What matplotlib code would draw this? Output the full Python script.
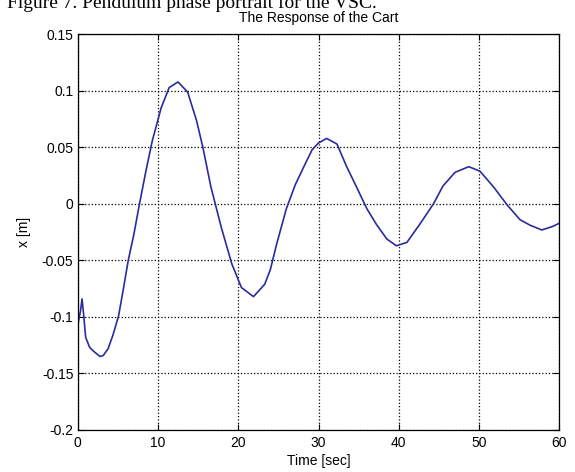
import matplotlib
matplotlib.use("Agg")
import matplotlib.pyplot as plt

# values
time_s = [0.0, 0.05, 0.35, 0.55, 0.75, 1.0, 1.5, 2.1, 2.8, 3.2, 3.8, 4.4, 5.1,
          5.7, 6.3, 7.0, 7.7, 8.5, 9.3, 10.4, 11.4, 12.5, 13.7, 14.8, 15.6, 16.6,
          17.9, 19.2, 20.4, 21.9, 23.3, 24.0, 24.8, 26.0, 27.1, 28.1, 29.2, 30.0,
          31.0, 32.3, 33.5, 34.8, 36.0, 37.2, 38.5, 39.7, 41.0, 42.6, 44.3, 45.5,
          47.0, 48.7, 50.1, 51.8, 53.5, 55.1, 56.4, 57.8, 59.1, 60.0]
cart_x = [-0.047, -0.106, -0.095, -0.084, -0.098, -0.118, -0.127, -0.131, -0.135,
          -0.134, -0.128, -0.116, -0.099, -0.075, -0.050, -0.027, 0.000, 0.029,
          0.056, 0.085, 0.103, 0.108, 0.099, 0.074, 0.050, 0.015, -0.021, -0.053,
          -0.074, -0.082, -0.071, -0.058, -0.035, -0.004, 0.017, 0.032, 0.048,
          0.054, 0.058, 0.053, 0.033, 0.014, -0.004, -0.018, -0.031, -0.037,
          -0.034, -0.018, 0.000, 0.016, 0.028, 0.033, 0.029, 0.015, -0.001,
          -0.014, -0.019, -0.023, -0.020, -0.017]

x_ticks = [0, 10, 20, 30, 40, 50, 60]
y_ticks = [-0.2, -0.15, -0.1, -0.05, 0, 0.05, 0.1, 0.15]
y_labels = ["-0.2", "-0.15", "-0.1", "-0.05", "0", "0.05", "0.1", "0.15"]

plt.rcParams["font.family"] = ["Liberation Sans", "DejaVu Sans"]

fig = plt.figure(figsize=(5.75, 4.72), dpi=100)
ax = fig.add_axes([0.135, 0.089, 0.838, 0.838])

ax.plot(time_s, cart_x, color="#2b2b9e", linewidth=1.2)

ax.set_xlim(0, 60)
ax.set_ylim(-0.2, 0.15)
ax.set_xticks(x_ticks)
ax.set_yticks(y_ticks)
ax.set_yticklabels(y_labels)
ax.tick_params(direction="in", top=True, right=True, labelsize=10, length=4)
ax.tick_params(axis="x", pad=4)
ax.tick_params(axis="y", pad=3)
ax.grid(True, linestyle=":", color="black", linewidth=0.9)
for s in ax.spines.values():
    s.set_linewidth(0.9)

ax.set_title("The Response of the Cart", fontsize=10, pad=9)
ax.set_xlabel("Time [sec]", fontsize=10, labelpad=3)
ax.set_ylabel("x [m]", fontsize=10, labelpad=8)

# caption of the source figure, cut off at the top edge
fig.text(0.012, 0.983, "Figure 7. Pendulum phase portrait for the VSC.",
         family="Liberation Serif", fontsize=14, va="baseline", ha="left")

fig.savefig("out.png", dpi=100)
